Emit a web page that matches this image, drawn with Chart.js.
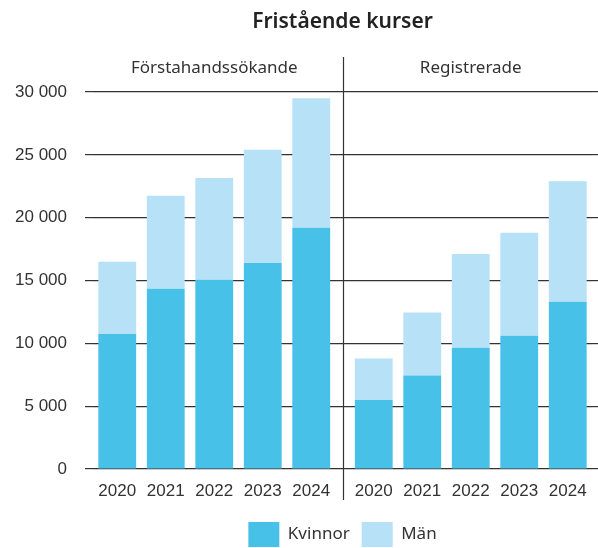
<!DOCTYPE html>
<html>
<head>
<meta charset="utf-8">
<style>
    html, body { margin: 0; padding: 0; overflow: hidden; background: #fff; }
    #wrap { width: 598px; height: 557px; }
</style>
</head>
<body>
<div id="wrap">
    <canvas id="kurser-chart"></canvas>
</div>

<script src="https://cdn.jsdelivr.net/npm/chart.js"></script>

<script>
    const title = 'Fristående kurser';
    const groups = ['Förstahandssökande', 'Registrerade'];
    const years = ['2020', '2021', '2022', '2023', '2024'];
    const seriesNames = ['Kvinnor', 'Män'];

    const sokandeKvinnor = [10750, 14350, 15050, 16400, 19200];
    const sokandeMan = [5750, 7400, 8100, 9000, 10300];
    const regKvinnor = [5500, 7450, 9650, 10600, 13300];
    const regMan = [3300, 5000, 7450, 8200, 9600];

    const yTicks = [0, 5000, 10000, 15000, 20000, 25000, 30000];

    const darkBlue = '#48c1e9';
    const lightBlue = '#b6e1f6';
    const textColor = '#333333';
    const lineColor = '#333333';

    const numFont = { family: '"Liberation Sans", Arial, sans-serif', size: 17 };
    const labelFont = { family: '"Noto Sans", sans-serif', size: 17 };

    const formatNumber = (v) => String(v).replace(/\B(?=(\d{3})+(?!\d))/g, ' ');

    // keep the axes from reserving extra room for their labels
    const noPadding = (s) => {
        s.paddingLeft = 0;
        s.paddingRight = 0;
        s.paddingTop = 0;
        s.paddingBottom = 0;
    };

    // divider between the two groups + the group headings
    const groupDivider = {
        id: 'groupDivider',
        afterDraw(chart) {
            const { ctx, chartArea } = chart;
            const mid = chart.scales.xMid;
            const x = Math.round((mid.left + mid.right) / 2) + 0.5;

            ctx.save();
            ctx.strokeStyle = lineColor;
            ctx.lineWidth = 1.2;
            ctx.beginPath();
            ctx.moveTo(x, chartArea.top - 35);
            ctx.lineTo(x, chartArea.bottom + 31);
            ctx.stroke();

            ctx.fillStyle = textColor;
            ctx.font = `${labelFont.size}px ${labelFont.family}`;
            ctx.textAlign = 'center';
            ctx.textBaseline = 'middle';
            ['x1', 'x2'].forEach((id, i) => {
                const s = chart.scales[id];
                ctx.fillText(groups[i], (s.left + s.right) / 2, chartArea.top - 24);
            });
            ctx.restore();
        }
    };

    const xScale = (weight, labels, showTicks) => ({
        type: 'category',
        labels,
        stack: 'groups',
        stackWeight: weight,
        stacked: true,
        offset: true,
        grid: { display: false, drawTicks: false },
        border: { display: false },
        ticks: { display: showTicks, autoSkip: false, padding: 12, color: textColor, font: numFont, maxRotation: 0 },
        afterFit: (s) => { s.height = 41; noPadding(s); }
    });

    const ctx = document.getElementById('kurser-chart');

    new Chart(ctx, {
        type: 'bar',
        data: {
            datasets: [
                { label: seriesNames[0], data: sokandeKvinnor, stack: 'sok', xAxisID: 'x1', yAxisID: 'y', backgroundColor: darkBlue },
                { label: seriesNames[1], data: sokandeMan, stack: 'sok', xAxisID: 'x1', yAxisID: 'y', backgroundColor: lightBlue },
                { label: seriesNames[0], data: regKvinnor, stack: 'reg', xAxisID: 'x2', yAxisID: 'y', backgroundColor: darkBlue },
                { label: seriesNames[1], data: regMan, stack: 'reg', xAxisID: 'x2', yAxisID: 'y', backgroundColor: lightBlue }
            ]
        },
        options: {
            responsive: true,
            maintainAspectRatio: false,
            animation: false,
            borderWidth: 0,
            grouped: false,
            barPercentage: 0.78,
            categoryPercentage: 1,
            layout: { autoPadding: false, padding: 0 },
            scales: {
                x1: xScale(242.5, years, true),
                xMid: xScale(14, [''], false),
                x2: xScale(242.5, years, true),
                y: {
                    position: 'left',
                    stacked: true,
                    min: yTicks[0],
                    max: yTicks[yTicks.length - 1],
                    afterBuildTicks: (s) => { s.ticks = yTicks.map(v => ({ value: v })); },
                    ticks: {
                        padding: 18,
                        color: textColor,
                        font: numFont,
                        callback: (value) => formatNumber(value)
                    },
                    grid: { color: lineColor, lineWidth: 1.2, tickLength: 8 },
                    border: { display: false },
                    afterFit: (s) => { s.width = 93; noPadding(s); }
                },
                yEdge: {
                    position: 'right',
                    min: yTicks[0],
                    max: yTicks[yTicks.length - 1],
                    afterBuildTicks: (s) => { s.ticks = yTicks.map(v => ({ value: v })); },
                    ticks: { display: false },
                    grid: { drawOnChartArea: false, color: lineColor, lineWidth: 1.2, tickLength: 6 },
                    border: { display: false },
                    afterFit: (s) => { s.width = 6; noPadding(s); }
                }
            },
            plugins: {
                title: {
                    display: true,
                    text: title,
                    fullSize: false,
                    color: '#222222',
                    font: { family: '"Noto Sans", sans-serif', size: 21, weight: '600' },
                    padding: { top: 9, bottom: 57.8 }
                },
                legend: {
                    position: 'bottom',
                    fullSize: false,
                    labels: {
                        boxWidth: 31,
                        boxHeight: 25,
                        padding: 12,
                        color: textColor,
                        font: labelFont,
                        filter: (item) => item.datasetIndex < 2
                    }
                },
                tooltip: { enabled: false }
            }
        },
        plugins: [groupDivider]
    });
</script>
</body>
</html>
